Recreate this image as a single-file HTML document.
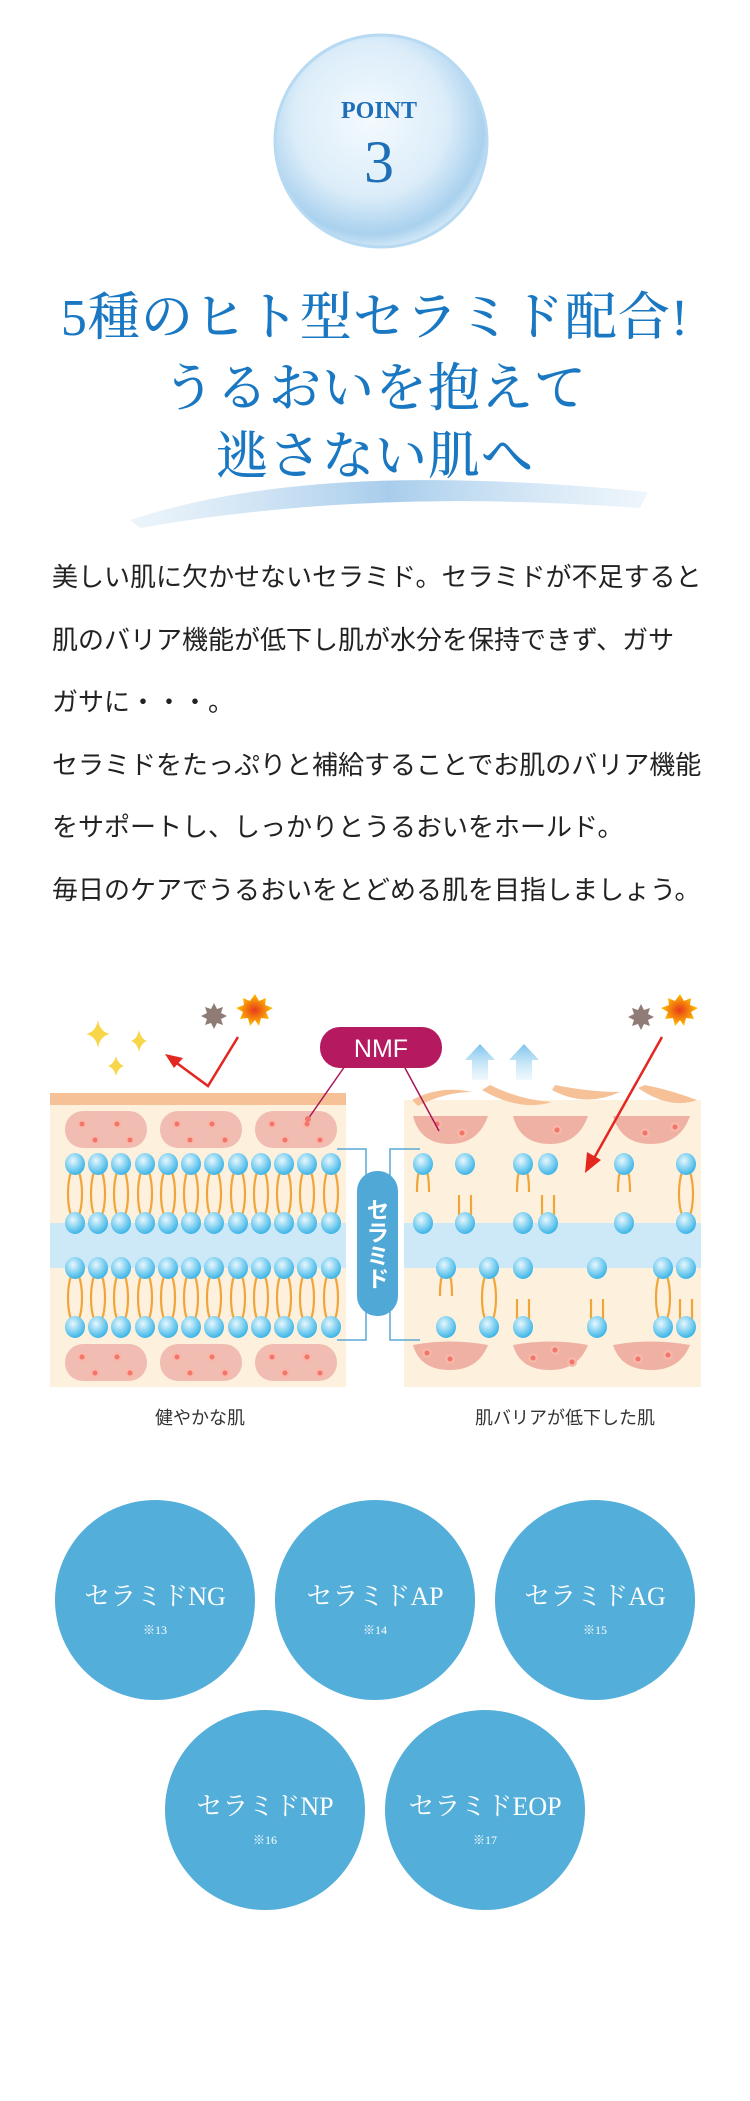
<!DOCTYPE html>
<html><head><meta charset="utf-8">
<style>
html,body{margin:0;padding:0;background:#fff;}
body{width:750px;height:2101px;position:relative;overflow:hidden;font-family:"Liberation Sans","Noto Sans CJK JP",sans-serif;}
.abs{position:absolute;}
.title{left:0;width:750px;text-align:center;color:#1a78c2;font-family:"Liberation Serif","Noto Serif CJK SC","Noto Sans CJK JP",serif;font-size:52px;line-height:68px;font-weight:500;letter-spacing:1px;}
.para{left:52px;top:546px;width:680px;font-size:26px;line-height:62.5px;color:#222;font-family:"Liberation Sans","Noto Sans CJK JP",sans-serif;white-space:nowrap;}
.c{position:absolute;width:200px;height:200px;border-radius:50%;background:#53aed9;color:#fff;text-align:center;font-family:"Liberation Serif","Noto Serif CJK SC",serif;}
.c .n{position:absolute;top:82px;left:0;width:200px;font-size:26px;line-height:30px;}
.c .s{position:absolute;top:123px;left:0;width:200px;font-size:12px;line-height:14px;}
.lab{font-size:18px;color:#333;top:1404px;}
.vt{left:357px;top:1171px;width:41px;height:145px;border-radius:20px;background:#4fa8d6;color:#fff;font-size:23px;font-weight:bold;writing-mode:vertical-rl;text-align:center;line-height:41px;font-family:"Noto Sans CJK JP",sans-serif;}
</style></head><body>

<svg class="abs" style="left:0;top:0" width="750" height="540">
<defs>
<radialGradient id="bub" cx="45%" cy="40%" r="60%">
<stop offset="0" stop-color="#f4fafe"/><stop offset="0.6" stop-color="#dcedf9"/><stop offset="0.9" stop-color="#a9d1ee"/><stop offset="1" stop-color="#cfe6f6"/>
</radialGradient>
<linearGradient id="brush" x1="0" x2="1"><stop offset="0" stop-color="#c4ddf1" stop-opacity="0.3"/><stop offset="0.5" stop-color="#a8cdec"/><stop offset="1" stop-color="#c9e0f3" stop-opacity="0.3"/></linearGradient>
</defs>
<ellipse cx="381" cy="141" rx="106" ry="106" fill="url(#bub)"/>
<ellipse cx="381" cy="141" rx="106" ry="106" fill="none" stroke="#b7daf2" stroke-width="3"/>
<text x="379" y="118" text-anchor="middle" font-family="Liberation Serif,serif" font-size="24" font-weight="bold" fill="#1f6fb8">POINT</text>
<text x="379" y="182" text-anchor="middle" font-family="Liberation Serif,serif" font-size="60" fill="#1f6fb8">3</text>
<path d="M130 520 C 260 478, 420 470, 648 492 L 640 508 C 460 495, 300 500, 140 528 Z" fill="url(#brush)"/>
</svg>

<div class="abs title" style="top:285px;">5種のヒト型セラミド配合!</div>
<div class="abs title" style="top:356px;">うるおいを抱えて</div>
<div class="abs title" style="top:424px;">逃さない肌へ</div>

<div class="abs para">美しい肌に欠かせないセラミド。セラミドが不足すると<br>肌のバリア機能が低下し肌が水分を保持できず、ガサ<br>ガサに・・・。<br>セラミドをたっぷりと補給することでお肌のバリア機能<br>をサポートし、しっかりとうるおいをホールド。<br>毎日のケアでうるおいをとどめる肌を目指しましょう。</div>

<svg class="abs" style="left:0;top:990px" width="750" height="420" viewBox="0 990 750 420">
<defs>
<radialGradient id="head" cx="40%" cy="35%" r="65%"><stop offset="0" stop-color="#e8f7fd"/><stop offset="0.6" stop-color="#7fd0f1"/><stop offset="1" stop-color="#3eb4e6"/></radialGradient>
<radialGradient id="sun" cx="50%" cy="50%" r="50%"><stop offset="0" stop-color="#e83a1a"/><stop offset="1" stop-color="#ffc400"/></radialGradient>
<linearGradient id="up" x1="0" y1="1" x2="0" y2="0"><stop offset="0" stop-color="#c9e8f8" stop-opacity="0.3"/><stop offset="1" stop-color="#7cc3ec"/></linearGradient>
<g id="h"><ellipse cx="0" cy="0" rx="10" ry="11" fill="url(#head)"/></g>
<g id="tfull"><path d="M-4 8 C-8 20,-8 40,-4 51 M4 8 C8 20,8 40,4 51" stroke="#f0a53a" stroke-width="2.2" fill="none"/></g>
<g id="tdown"><path d="M-4 8 C-6 14,-6 22,-6 28 M4 8 C6 14,6 22,6 28" stroke="#f0a53a" stroke-width="2.2" fill="none"/></g>
<g id="tup"><path d="M-6 -8 C-6 -14,-6 -22,-6 -28 M6 -8 C6 -14,6 -22,6 -28" stroke="#f0a53a" stroke-width="2.2" fill="none"/></g>
<g id="dot"><circle r="5" fill="#f8b7a8"/><circle r="2.5" fill="#f2746a"/></g>
</defs>

<rect x="50" y="1093" width="296" height="294" fill="#fdf1dd"/>
<rect x="50" y="1093" width="296" height="12" fill="#f6c196"/>
<rect x="50" y="1223" width="296" height="45" fill="#cde9f8"/>
<g fill="#f1bdb3">
<rect x="65" y="1111" width="82" height="37" rx="18"/><rect x="160" y="1111" width="82" height="37" rx="18"/><rect x="255" y="1111" width="82" height="37" rx="18"/>
<rect x="65" y="1344" width="82" height="37" rx="18"/><rect x="160" y="1344" width="82" height="37" rx="18"/><rect x="255" y="1344" width="82" height="37" rx="18"/>
</g>
<g>
<use href="#dot" x="82" y="1124"/><use href="#dot" x="117" y="1124"/><use href="#dot" x="95" y="1140"/><use href="#dot" x="130" y="1140"/>
<use href="#dot" x="177" y="1124"/><use href="#dot" x="212" y="1124"/><use href="#dot" x="190" y="1140"/><use href="#dot" x="225" y="1140"/>
<use href="#dot" x="272" y="1124"/><use href="#dot" x="307" y="1124"/><use href="#dot" x="285" y="1140"/><use href="#dot" x="320" y="1140"/>
<use href="#dot" x="82" y="1357"/><use href="#dot" x="117" y="1357"/><use href="#dot" x="95" y="1373"/><use href="#dot" x="130" y="1373"/>
<use href="#dot" x="177" y="1357"/><use href="#dot" x="212" y="1357"/><use href="#dot" x="190" y="1373"/><use href="#dot" x="225" y="1373"/>
<use href="#dot" x="272" y="1357"/><use href="#dot" x="307" y="1357"/><use href="#dot" x="285" y="1373"/><use href="#dot" x="320" y="1373"/>
</g>
<g>
<use href="#tfull" x="75" y="1164"/><use href="#tfull" x="98" y="1164"/><use href="#tfull" x="121" y="1164"/><use href="#tfull" x="145" y="1164"/><use href="#tfull" x="168" y="1164"/><use href="#tfull" x="191" y="1164"/><use href="#tfull" x="214" y="1164"/><use href="#tfull" x="238" y="1164"/><use href="#tfull" x="261" y="1164"/><use href="#tfull" x="284" y="1164"/><use href="#tfull" x="307" y="1164"/><use href="#tfull" x="331" y="1164"/>
<use href="#tfull" x="75" y="1268"/><use href="#tfull" x="98" y="1268"/><use href="#tfull" x="121" y="1268"/><use href="#tfull" x="145" y="1268"/><use href="#tfull" x="168" y="1268"/><use href="#tfull" x="191" y="1268"/><use href="#tfull" x="214" y="1268"/><use href="#tfull" x="238" y="1268"/><use href="#tfull" x="261" y="1268"/><use href="#tfull" x="284" y="1268"/><use href="#tfull" x="307" y="1268"/><use href="#tfull" x="331" y="1268"/>
</g>
<g>
<use href="#h" x="75" y="1164"/><use href="#h" x="98" y="1164"/><use href="#h" x="121" y="1164"/><use href="#h" x="145" y="1164"/><use href="#h" x="168" y="1164"/><use href="#h" x="191" y="1164"/><use href="#h" x="214" y="1164"/><use href="#h" x="238" y="1164"/><use href="#h" x="261" y="1164"/><use href="#h" x="284" y="1164"/><use href="#h" x="307" y="1164"/><use href="#h" x="331" y="1164"/>
<use href="#h" x="75" y="1223"/><use href="#h" x="98" y="1223"/><use href="#h" x="121" y="1223"/><use href="#h" x="145" y="1223"/><use href="#h" x="168" y="1223"/><use href="#h" x="191" y="1223"/><use href="#h" x="214" y="1223"/><use href="#h" x="238" y="1223"/><use href="#h" x="261" y="1223"/><use href="#h" x="284" y="1223"/><use href="#h" x="307" y="1223"/><use href="#h" x="331" y="1223"/>
<use href="#h" x="75" y="1268"/><use href="#h" x="98" y="1268"/><use href="#h" x="121" y="1268"/><use href="#h" x="145" y="1268"/><use href="#h" x="168" y="1268"/><use href="#h" x="191" y="1268"/><use href="#h" x="214" y="1268"/><use href="#h" x="238" y="1268"/><use href="#h" x="261" y="1268"/><use href="#h" x="284" y="1268"/><use href="#h" x="307" y="1268"/><use href="#h" x="331" y="1268"/>
<use href="#h" x="75" y="1327"/><use href="#h" x="98" y="1327"/><use href="#h" x="121" y="1327"/><use href="#h" x="145" y="1327"/><use href="#h" x="168" y="1327"/><use href="#h" x="191" y="1327"/><use href="#h" x="214" y="1327"/><use href="#h" x="238" y="1327"/><use href="#h" x="261" y="1327"/><use href="#h" x="284" y="1327"/><use href="#h" x="307" y="1327"/><use href="#h" x="331" y="1327"/>
</g>

<rect x="404" y="1100" width="297" height="287" fill="#fdf1dd"/>
<rect x="404" y="1223" width="297" height="45" fill="#cde9f8"/>
<g fill="#f6c196">
<path d="M412 1100 Q440 1085 472 1092 Q445 1092 418 1106 Z"/>
<path d="M482 1090 Q520 1112 552 1102 Q520 1100 490 1085 Z"/>
<path d="M552 1090 Q585 1108 620 1092 Q590 1092 555 1085 Z"/>
<path d="M638 1088 Q670 1110 697 1100 Q670 1090 645 1085 Z"/>
</g>
<g fill="#eeb1a3">
<path d="M413 1116 L488 1116 Q478 1144 450 1144 Q420 1144 413 1116 Z"/>
<path d="M513 1116 L588 1116 Q578 1144 550 1144 Q520 1144 513 1116 Z"/>
<path d="M613 1116 L690 1116 Q680 1144 651 1144 Q621 1144 613 1116 Z"/>
<path d="M413 1345 Q450 1338 488 1345 Q478 1370 450 1370 Q420 1370 413 1345 Z"/>
<path d="M513 1345 Q550 1338 588 1345 Q578 1370 550 1370 Q520 1370 513 1345 Z"/>
<path d="M613 1345 Q651 1338 690 1345 Q680 1370 651 1370 Q621 1370 613 1345 Z"/>
</g>
<use href="#dot" x="437" y="1124"/><use href="#dot" x="462" y="1133"/><use href="#dot" x="557" y="1130"/><use href="#dot" x="645" y="1133"/><use href="#dot" x="675" y="1127"/>
<use href="#dot" x="427" y="1353"/><use href="#dot" x="450" y="1359"/><use href="#dot" x="533" y="1358"/><use href="#dot" x="555" y="1350"/><use href="#dot" x="572" y="1362"/><use href="#dot" x="638" y="1359"/><use href="#dot" x="668" y="1355"/>
<use href="#tdown" x="423" y="1164"/><use href="#tdown" x="523" y="1164"/><use href="#tdown" x="624" y="1164"/><use href="#tfull" x="686" y="1164"/>
<use href="#tup" x="465" y="1223"/><use href="#tup" x="548" y="1223"/>
<use href="#tdown" x="446" y="1268"/><use href="#tfull" x="489" y="1268"/><use href="#tfull" x="663" y="1268"/>
<use href="#tup" x="523" y="1327"/><use href="#tup" x="597" y="1327"/><use href="#tup" x="686" y="1327"/>
<use href="#h" x="423" y="1164"/><use href="#h" x="465" y="1164"/><use href="#h" x="523" y="1164"/><use href="#h" x="548" y="1164"/><use href="#h" x="624" y="1164"/><use href="#h" x="686" y="1164"/>
<use href="#h" x="423" y="1223"/><use href="#h" x="465" y="1223"/><use href="#h" x="523" y="1223"/><use href="#h" x="548" y="1223"/><use href="#h" x="624" y="1223"/><use href="#h" x="686" y="1223"/>
<use href="#h" x="446" y="1268"/><use href="#h" x="489" y="1268"/><use href="#h" x="523" y="1268"/><use href="#h" x="597" y="1268"/><use href="#h" x="663" y="1268"/><use href="#h" x="686" y="1268"/>
<use href="#h" x="446" y="1327"/><use href="#h" x="489" y="1327"/><use href="#h" x="523" y="1327"/><use href="#h" x="597" y="1327"/><use href="#h" x="663" y="1327"/><use href="#h" x="686" y="1327"/>

<path d="M337 1149 H366 V1340 H337 M420 1149 H390 V1340 H420" stroke="#5aa9d6" stroke-width="1.5" fill="none"/>

<path d="M345 1066 L308 1119 M405 1068 L439 1131" stroke="#a8145a" stroke-width="1.5"/>
<rect x="320" y="1027" width="122" height="41" rx="20" fill="#b5195f"/>
<text x="381" y="1057" text-anchor="middle" font-family="Liberation Sans,sans-serif" font-size="25" fill="#fff">NMF</text>
<circle cx="308" cy="1119" r="3" fill="#f2746a"/>

<g fill="#f8d64a">
<path d="M98 1020 Q100 1032 110 1034 Q100 1036 98 1048 Q96 1036 86 1034 Q96 1032 98 1020Z"/>
<path d="M139 1030 Q141 1039 147 1041 Q141 1043 139 1052 Q137 1043 131 1041 Q137 1039 139 1030Z"/>
<path d="M116 1056 Q118 1064 124 1066 Q118 1068 116 1076 Q114 1068 108 1066 Q114 1064 116 1056Z"/>
</g>
<g>
<polygon points="214,1003 217,1009 223,1007 221,1013 227,1016 221,1019 223,1025 217,1023 214,1029 211,1023 205,1025 207,1019 201,1016 207,1013 205,1007 211,1009" fill="#8f7c77"/>
<polygon points="255,994 259,1001 266,998 265,1005 273,1008 266,1012 269,1019 261,1018 259,1026 255,1020 250,1026 248,1018 240,1019 243,1012 236,1008 244,1005 243,998 250,1001" fill="url(#sun)"/>
<polygon points="641,1004 644,1010 650,1008 648,1014 654,1017 648,1020 650,1026 644,1024 641,1030 638,1024 632,1026 634,1020 628,1017 634,1014 632,1008 638,1010" fill="#8f7c77"/>
<polygon points="680,994 684,1001 691,998 690,1005 698,1008 691,1012 694,1019 686,1018 684,1026 680,1020 675,1026 673,1018 665,1019 668,1012 661,1008 669,1005 668,998 675,1001" fill="url(#sun)"/>
</g>
<path d="M238 1037 L208 1086 L174 1061" stroke="#e3261f" stroke-width="2.5" fill="none"/>
<polygon points="165,1054 183,1058 174,1068" fill="#e3261f"/>
<path d="M662 1037 L593 1160" stroke="#e3261f" stroke-width="2.5"/>
<polygon points="585,1173 587,1152 601,1160" fill="#e3261f"/>
<path d="M472 1080 V1060 H465 L480 1044 L495 1060 H488 V1080 Z" fill="url(#up)"/>
<path d="M516 1080 V1060 H509 L524 1044 L539 1060 H532 V1080 Z" fill="url(#up)"/>
</svg>

<div class="abs vt">セラミド</div>

<div class="abs lab" style="left:100px;width:200px;text-align:center;">健やかな肌</div>
<div class="abs lab" style="left:440px;width:250px;text-align:center;">肌バリアが低下した肌</div>

<div class="c" style="left:55px;top:1500px;"><div class="n">セラミドNG</div><div class="s">※13</div></div>
<div class="c" style="left:275px;top:1500px;"><div class="n">セラミドAP</div><div class="s">※14</div></div>
<div class="c" style="left:495px;top:1500px;"><div class="n">セラミドAG</div><div class="s">※15</div></div>
<div class="c" style="left:165px;top:1710px;"><div class="n">セラミドNP</div><div class="s">※16</div></div>
<div class="c" style="left:385px;top:1710px;"><div class="n">セラミドEOP</div><div class="s">※17</div></div>

</body></html>
